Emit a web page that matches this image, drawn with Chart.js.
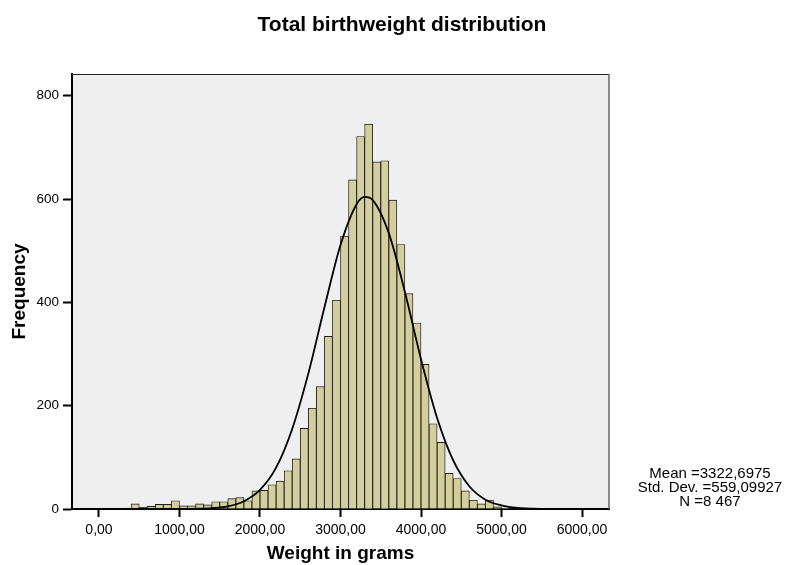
<!DOCTYPE html>
<html>
<head>
<meta charset="utf-8">
<title>Total birthweight distribution</title>
<script src="https://cdn.jsdelivr.net/npm/chart.js@4.4.1/dist/chart.umd.min.js"></script>
<style>
  html, body { margin: 0; padding: 0; background: #fff; }
  #wrap { width: 790px; height: 565px; }
</style>
</head>
<body>
<div id="wrap"><canvas id="histChart" width="790" height="565"></canvas></div>
<script>
// -------------------------------
// DATA
// -------------------------------

// Histogram bins (start of each 100 g bin) and counts
const binStarts = [300, 400, 500, 600, 700, 800, 900, 1000, 1100, 1200, 1300, 1400, 1500, 1600, 1700,
  1800, 1900, 2000, 2100, 2200, 2300, 2400, 2500, 2600, 2700, 2800, 2900, 3000, 3100, 3200, 3300,
  3400, 3500, 3600, 3700, 3800, 3900, 4000, 4100, 4200, 4300, 4400, 4500, 4600, 4700, 4800, 4900,
  5000, 5100, 5200, 5300, 5400, 5500];
const binCounts = [2, 10, 3, 5, 9, 9, 16, 6, 6, 10, 8, 14, 14, 20, 22,
  16, 35, 36, 47, 54, 74, 97, 156, 195, 237, 334, 404, 528, 637, 721, 745,
  672, 674, 598, 512, 417, 360, 280, 165, 129, 69, 59, 35, 17, 10, 17, 4,
  2, 1, 0, 0, 1, 1];
const binWidth = 100;

// Normal curve overlay
const curveX = [200, 400, 600, 800, 1000, 1200, 1400, 1600, 1800, 2000, 2200, 2400, 2600, 2800,
  3000, 3200, 3300, 3400, 3600, 3800, 4000, 4200, 4400, 4600, 4800, 5000, 5200, 5400, 5600, 5800];
const curveY = [0, 0, 0, 0, 0.1, 0.4, 1.6, 5, 15, 37, 80, 155, 262, 390,
  511, 590, 604, 598, 534, 420, 290, 176, 94, 44, 18, 7, 2, 0.6, 0.1, 0];

// Tick labels
const xTicks = [0, 1000, 2000, 3000, 4000, 5000, 6000];
const yTicks = [0, 200, 400, 600, 800];

// Summary text
const statLines = ["Mean =3322,6975", "Std. Dev. =559,09927", "N =8 467"];
const chartTitle = "Total birthweight distribution";

// -------------------------------
// PLUGINS
// -------------------------------
const FONT = "'Liberation Sans', Arial, Helvetica, sans-serif";

const plotFrame = {
  id: "plotFrame",
  beforeDraw(chart) {
    const { ctx, chartArea: a } = chart;
    ctx.save();
    ctx.fillStyle = "#efefef";
    ctx.fillRect(a.left, a.top, a.right - a.left, a.bottom - a.top);
    ctx.restore();
  },
  afterDraw(chart) {
    const { ctx, chartArea: a } = chart;
    ctx.save();
    // top + right frame lines
    ctx.strokeStyle = "#222";
    ctx.lineWidth = 1.2;
    ctx.beginPath();
    ctx.moveTo(a.left, a.top + 0.5);
    ctx.lineTo(a.right, a.top + 0.5);
    ctx.stroke();
    ctx.strokeStyle = "#666";
    ctx.lineWidth = 1.5;
    ctx.beginPath();
    ctx.moveTo(a.right, a.top);
    ctx.lineTo(a.right, a.bottom);
    ctx.stroke();

    // title
    ctx.fillStyle = "#000";
    ctx.textAlign = "center";
    ctx.textBaseline = "middle";
    ctx.font = "bold 21px " + FONT;
    ctx.fillText(chartTitle, 402, 25);

    // stats block
    ctx.font = "15px " + FONT;
    statLines.forEach((line, i) => {
      ctx.fillText(line, 710, 474 + i * 14);
    });
    ctx.restore();
  }
};

// -------------------------------
// CHART
// -------------------------------
const barPoints = binStarts.map((s, i) => ({ x: s + binWidth / 2, y: binCounts[i] }));
const curvePoints = curveX.map((x, i) => ({ x: x, y: curveY[i] }));

new Chart(document.getElementById("histChart"), {
  type: "bar",
  data: {
    datasets: [
      {
        type: "line",
        data: curvePoints,
        borderColor: "#000",
        borderWidth: 1.8,
        pointRadius: 0,
        fill: false,
        cubicInterpolationMode: "monotone",
        order: 0
      },
      {
        type: "bar",
        data: barPoints,
        backgroundColor: "#d3ce9b",
        borderColor: "#1e1e1e",
        borderWidth: 0.9,
        barPercentage: 1.0,
        categoryPercentage: 1.0,
        order: 1
      }
    ]
  },
  options: {
    responsive: false,
    animation: false,
    devicePixelRatio: 1,
    layout: { padding: { top: 74, right: 181, left: 0, bottom: 0 } },
    plugins: {
      legend: { display: false },
      tooltip: { enabled: false },
      title: { display: false }
    },
    scales: {
      x: {
        type: "linear",
        min: -335,
        max: 6335,
        offset: false,
        afterBuildTicks: (scale) => { scale.ticks = xTicks.map(v => ({ value: v })); },
        afterFit: (scale) => { scale.height = 56; },
        grid: { offset: false, drawOnChartArea: false, drawTicks: true, tickLength: 8, tickWidth: 2, tickColor: "#000" },
        border: { display: true, color: "#000", width: 2 },
        ticks: {
          color: "#000",
          padding: 5,
          maxRotation: 0,
          font: { family: FONT, size: 14 },
          callback: (v) => v.toFixed(2).replace(".", ",")
        },
        title: {
          display: true,
          text: "Weight in grams",
          color: "#000",
          padding: { top: 0, bottom: 0 },
          font: { family: FONT, size: 19, weight: "bold" }
        }
      },
      y: {
        min: 0,
        max: 842,
        afterBuildTicks: (scale) => { scale.ticks = yTicks.map(v => ({ value: v })); },
        afterFit: (scale) => { scale.width = 72; },
        grid: { drawOnChartArea: false, drawTicks: true, tickLength: 9, tickWidth: 2, tickColor: "#000" },
        border: { display: true, color: "#000", width: 2 },
        ticks: {
          color: "#000",
          padding: 4,
          font: { family: FONT, size: 13.5 },
          callback: (v) => String(v)
        },
        title: {
          display: true,
          text: "Frequency",
          color: "#000",
          padding: { top: 8, bottom: 0 },
          font: { family: FONT, size: 19, weight: "bold" }
        }
      }
    }
  },
  plugins: [plotFrame]
});
</script>
</body>
</html>
